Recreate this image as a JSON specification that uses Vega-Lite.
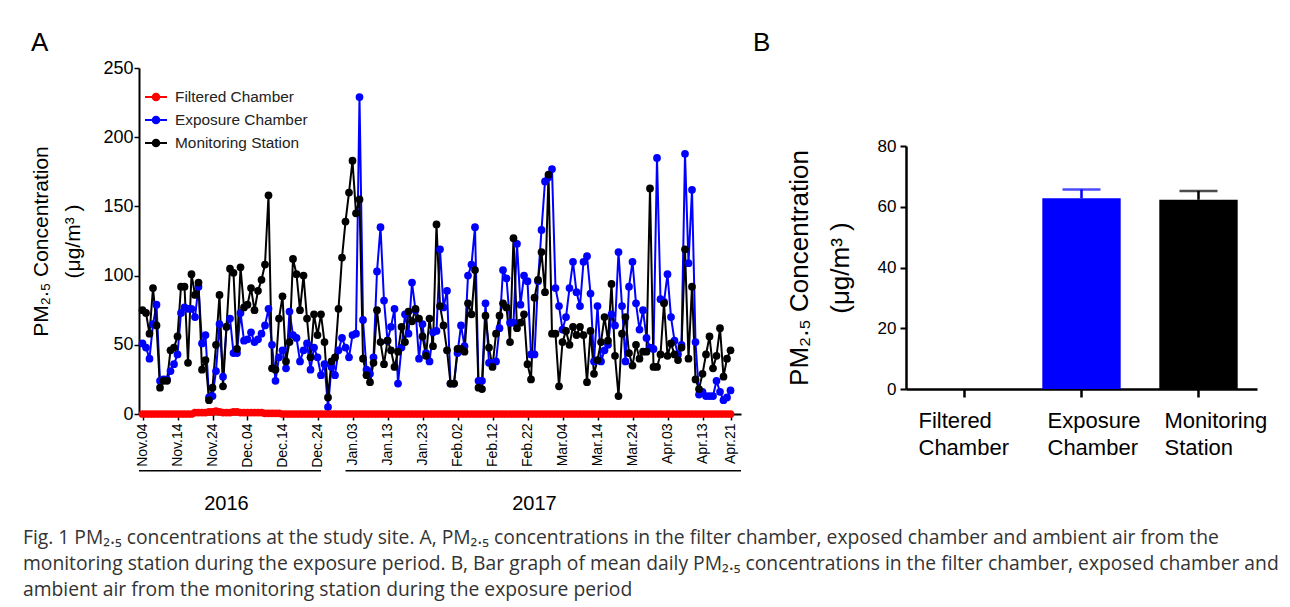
{
  "$schema": "https://vega.github.io/schema/vega-lite/v6.json",
  "background": "white",
  "padding": {"left": 22, "top": 30, "right": 5, "bottom": 2},
  "config": {
    "font": "Liberation Sans",
    "view": {"stroke": null},
    "axis": {"domainColor": "black", "tickColor": "black", "labelColor": "black", "titleColor": "black", "grid": false, "titleFontWeight": "normal", "labelFont": "Liberation Sans", "titleFont": "Liberation Sans"},
    "title": {"fontWeight": "normal", "color": "black"}
  },
  "title": {
    "text": [
      "Fig. 1 PM₂.₅ concentrations at the study site. A, PM₂.₅ concentrations in the filter chamber, exposed chamber and ambient air from the",
      "monitoring station during the exposure period. B, Bar graph of mean daily PM₂.₅ concentrations in the filter chamber, exposed chamber and",
      "ambient air from the monitoring station during the exposure period"
    ],
    "orient": "bottom", "anchor": "start", "frame": "bounds", "font": "Open Sans", "fontSize": 19.3, "fontWeight": "normal", "color": "#333333", "lineHeight": 26, "offset": 15, "dx": -8
  },
  "datasets": {
    "daily": [
      {"date":"2016-11-04","Filtered Chamber":0,"Exposure Chamber":51,"Monitoring Station":75},
      {"date":"2016-11-05","Filtered Chamber":0,"Exposure Chamber":48,"Monitoring Station":73},
      {"date":"2016-11-06","Filtered Chamber":0,"Exposure Chamber":40,"Monitoring Station":58},
      {"date":"2016-11-07","Filtered Chamber":0,"Exposure Chamber":65,"Monitoring Station":91},
      {"date":"2016-11-08","Filtered Chamber":0,"Exposure Chamber":79,"Monitoring Station":64},
      {"date":"2016-11-09","Filtered Chamber":0,"Exposure Chamber":24,"Monitoring Station":19},
      {"date":"2016-11-10","Filtered Chamber":0,"Exposure Chamber":25,"Monitoring Station":24},
      {"date":"2016-11-11","Filtered Chamber":0,"Exposure Chamber":25,"Monitoring Station":24},
      {"date":"2016-11-12","Filtered Chamber":0,"Exposure Chamber":31,"Monitoring Station":46},
      {"date":"2016-11-13","Filtered Chamber":0,"Exposure Chamber":36,"Monitoring Station":48},
      {"date":"2016-11-14","Filtered Chamber":0,"Exposure Chamber":43,"Monitoring Station":56},
      {"date":"2016-11-15","Filtered Chamber":0,"Exposure Chamber":73,"Monitoring Station":92},
      {"date":"2016-11-16","Filtered Chamber":0,"Exposure Chamber":77,"Monitoring Station":92},
      {"date":"2016-11-17","Filtered Chamber":0,"Exposure Chamber":76,"Monitoring Station":37},
      {"date":"2016-11-18","Filtered Chamber":0,"Exposure Chamber":76,"Monitoring Station":101},
      {"date":"2016-11-19","Filtered Chamber":1,"Exposure Chamber":70,"Monitoring Station":86},
      {"date":"2016-11-20","Filtered Chamber":1,"Exposure Chamber":92,"Monitoring Station":95},
      {"date":"2016-11-21","Filtered Chamber":1,"Exposure Chamber":51,"Monitoring Station":32},
      {"date":"2016-11-22","Filtered Chamber":1,"Exposure Chamber":57,"Monitoring Station":39},
      {"date":"2016-11-23","Filtered Chamber":1.5,"Exposure Chamber":12,"Monitoring Station":10},
      {"date":"2016-11-24","Filtered Chamber":1.5,"Exposure Chamber":13,"Monitoring Station":19},
      {"date":"2016-11-25","Filtered Chamber":2,"Exposure Chamber":31,"Monitoring Station":50},
      {"date":"2016-11-26","Filtered Chamber":1.5,"Exposure Chamber":65,"Monitoring Station":86},
      {"date":"2016-11-27","Filtered Chamber":1,"Exposure Chamber":27,"Monitoring Station":20},
      {"date":"2016-11-28","Filtered Chamber":1,"Exposure Chamber":63,"Monitoring Station":63},
      {"date":"2016-11-29","Filtered Chamber":1,"Exposure Chamber":69,"Monitoring Station":105},
      {"date":"2016-11-30","Filtered Chamber":1.5,"Exposure Chamber":44,"Monitoring Station":102},
      {"date":"2016-12-01","Filtered Chamber":1.5,"Exposure Chamber":44,"Monitoring Station":47},
      {"date":"2016-12-02","Filtered Chamber":1,"Exposure Chamber":73,"Monitoring Station":106},
      {"date":"2016-12-03","Filtered Chamber":1,"Exposure Chamber":53,"Monitoring Station":77},
      {"date":"2016-12-04","Filtered Chamber":1,"Exposure Chamber":54,"Monitoring Station":79},
      {"date":"2016-12-05","Filtered Chamber":1,"Exposure Chamber":59,"Monitoring Station":91},
      {"date":"2016-12-06","Filtered Chamber":1,"Exposure Chamber":52,"Monitoring Station":75},
      {"date":"2016-12-07","Filtered Chamber":1,"Exposure Chamber":54,"Monitoring Station":89},
      {"date":"2016-12-08","Filtered Chamber":1,"Exposure Chamber":58,"Monitoring Station":97},
      {"date":"2016-12-09","Filtered Chamber":0.5,"Exposure Chamber":64,"Monitoring Station":108},
      {"date":"2016-12-10","Filtered Chamber":0.5,"Exposure Chamber":76,"Monitoring Station":158},
      {"date":"2016-12-11","Filtered Chamber":0.5,"Exposure Chamber":50,"Monitoring Station":33},
      {"date":"2016-12-12","Filtered Chamber":0.5,"Exposure Chamber":24,"Monitoring Station":32},
      {"date":"2016-12-13","Filtered Chamber":0.5,"Exposure Chamber":41,"Monitoring Station":69},
      {"date":"2016-12-14","Filtered Chamber":0,"Exposure Chamber":46,"Monitoring Station":85},
      {"date":"2016-12-15","Filtered Chamber":0,"Exposure Chamber":33,"Monitoring Station":38},
      {"date":"2016-12-16","Filtered Chamber":0,"Exposure Chamber":74,"Monitoring Station":52},
      {"date":"2016-12-17","Filtered Chamber":0,"Exposure Chamber":57,"Monitoring Station":112},
      {"date":"2016-12-18","Filtered Chamber":0,"Exposure Chamber":55,"Monitoring Station":101},
      {"date":"2016-12-19","Filtered Chamber":0,"Exposure Chamber":38,"Monitoring Station":75},
      {"date":"2016-12-20","Filtered Chamber":0,"Exposure Chamber":46,"Monitoring Station":100},
      {"date":"2016-12-21","Filtered Chamber":0,"Exposure Chamber":51,"Monitoring Station":69},
      {"date":"2016-12-22","Filtered Chamber":0,"Exposure Chamber":32,"Monitoring Station":41},
      {"date":"2016-12-23","Filtered Chamber":0,"Exposure Chamber":48,"Monitoring Station":72},
      {"date":"2016-12-24","Filtered Chamber":0,"Exposure Chamber":41,"Monitoring Station":57},
      {"date":"2016-12-25","Filtered Chamber":0,"Exposure Chamber":28,"Monitoring Station":72},
      {"date":"2016-12-26","Filtered Chamber":0,"Exposure Chamber":36,"Monitoring Station":52},
      {"date":"2016-12-27","Filtered Chamber":0,"Exposure Chamber":5,"Monitoring Station":12},
      {"date":"2016-12-28","Filtered Chamber":0,"Exposure Chamber":34,"Monitoring Station":38},
      {"date":"2016-12-29","Filtered Chamber":0,"Exposure Chamber":28,"Monitoring Station":41},
      {"date":"2016-12-30","Filtered Chamber":0,"Exposure Chamber":46,"Monitoring Station":76},
      {"date":"2016-12-31","Filtered Chamber":0,"Exposure Chamber":55,"Monitoring Station":113},
      {"date":"2017-01-01","Filtered Chamber":0,"Exposure Chamber":48,"Monitoring Station":139},
      {"date":"2017-01-02","Filtered Chamber":0,"Exposure Chamber":41,"Monitoring Station":160},
      {"date":"2017-01-03","Filtered Chamber":0,"Exposure Chamber":57,"Monitoring Station":183},
      {"date":"2017-01-04","Filtered Chamber":0,"Exposure Chamber":58,"Monitoring Station":145},
      {"date":"2017-01-05","Filtered Chamber":0,"Exposure Chamber":229,"Monitoring Station":155},
      {"date":"2017-01-06","Filtered Chamber":0,"Exposure Chamber":68,"Monitoring Station":40},
      {"date":"2017-01-07","Filtered Chamber":0,"Exposure Chamber":32,"Monitoring Station":28},
      {"date":"2017-01-08","Filtered Chamber":0,"Exposure Chamber":29,"Monitoring Station":23},
      {"date":"2017-01-09","Filtered Chamber":0,"Exposure Chamber":41,"Monitoring Station":37},
      {"date":"2017-01-10","Filtered Chamber":0,"Exposure Chamber":103,"Monitoring Station":75},
      {"date":"2017-01-11","Filtered Chamber":0,"Exposure Chamber":135,"Monitoring Station":52},
      {"date":"2017-01-12","Filtered Chamber":0,"Exposure Chamber":82,"Monitoring Station":36},
      {"date":"2017-01-13","Filtered Chamber":0,"Exposure Chamber":53,"Monitoring Station":53},
      {"date":"2017-01-14","Filtered Chamber":0,"Exposure Chamber":63,"Monitoring Station":46},
      {"date":"2017-01-15","Filtered Chamber":0,"Exposure Chamber":76,"Monitoring Station":34},
      {"date":"2017-01-16","Filtered Chamber":0,"Exposure Chamber":22,"Monitoring Station":45},
      {"date":"2017-01-17","Filtered Chamber":0,"Exposure Chamber":48,"Monitoring Station":63},
      {"date":"2017-01-18","Filtered Chamber":0,"Exposure Chamber":72,"Monitoring Station":52},
      {"date":"2017-01-19","Filtered Chamber":0,"Exposure Chamber":58,"Monitoring Station":74},
      {"date":"2017-01-20","Filtered Chamber":0,"Exposure Chamber":95,"Monitoring Station":67},
      {"date":"2017-01-21","Filtered Chamber":0,"Exposure Chamber":75,"Monitoring Station":76},
      {"date":"2017-01-22","Filtered Chamber":0,"Exposure Chamber":40,"Monitoring Station":69},
      {"date":"2017-01-23","Filtered Chamber":0,"Exposure Chamber":65,"Monitoring Station":56},
      {"date":"2017-01-24","Filtered Chamber":0,"Exposure Chamber":44,"Monitoring Station":42},
      {"date":"2017-01-25","Filtered Chamber":0,"Exposure Chamber":38,"Monitoring Station":69},
      {"date":"2017-01-26","Filtered Chamber":0,"Exposure Chamber":59,"Monitoring Station":49},
      {"date":"2017-01-27","Filtered Chamber":0,"Exposure Chamber":60,"Monitoring Station":137},
      {"date":"2017-01-28","Filtered Chamber":0,"Exposure Chamber":119,"Monitoring Station":78},
      {"date":"2017-01-29","Filtered Chamber":0,"Exposure Chamber":77,"Monitoring Station":64},
      {"date":"2017-01-30","Filtered Chamber":0,"Exposure Chamber":89,"Monitoring Station":46},
      {"date":"2017-01-31","Filtered Chamber":0,"Exposure Chamber":22,"Monitoring Station":22},
      {"date":"2017-02-01","Filtered Chamber":0,"Exposure Chamber":22,"Monitoring Station":22},
      {"date":"2017-02-02","Filtered Chamber":0,"Exposure Chamber":44,"Monitoring Station":47},
      {"date":"2017-02-03","Filtered Chamber":0,"Exposure Chamber":64,"Monitoring Station":47},
      {"date":"2017-02-04","Filtered Chamber":0,"Exposure Chamber":49,"Monitoring Station":45},
      {"date":"2017-02-05","Filtered Chamber":0,"Exposure Chamber":100,"Monitoring Station":80},
      {"date":"2017-02-06","Filtered Chamber":0,"Exposure Chamber":108,"Monitoring Station":72},
      {"date":"2017-02-07","Filtered Chamber":0,"Exposure Chamber":135,"Monitoring Station":104},
      {"date":"2017-02-08","Filtered Chamber":0,"Exposure Chamber":24,"Monitoring Station":19},
      {"date":"2017-02-09","Filtered Chamber":0,"Exposure Chamber":24,"Monitoring Station":18},
      {"date":"2017-02-10","Filtered Chamber":0,"Exposure Chamber":80,"Monitoring Station":71},
      {"date":"2017-02-11","Filtered Chamber":0,"Exposure Chamber":37,"Monitoring Station":48},
      {"date":"2017-02-12","Filtered Chamber":0,"Exposure Chamber":37,"Monitoring Station":34},
      {"date":"2017-02-13","Filtered Chamber":0,"Exposure Chamber":38,"Monitoring Station":58},
      {"date":"2017-02-14","Filtered Chamber":0,"Exposure Chamber":62,"Monitoring Station":71},
      {"date":"2017-02-15","Filtered Chamber":0,"Exposure Chamber":104,"Monitoring Station":80},
      {"date":"2017-02-16","Filtered Chamber":0,"Exposure Chamber":98,"Monitoring Station":77},
      {"date":"2017-02-17","Filtered Chamber":0,"Exposure Chamber":66,"Monitoring Station":52},
      {"date":"2017-02-18","Filtered Chamber":0,"Exposure Chamber":66,"Monitoring Station":127},
      {"date":"2017-02-19","Filtered Chamber":0,"Exposure Chamber":123,"Monitoring Station":62},
      {"date":"2017-02-20","Filtered Chamber":0,"Exposure Chamber":79,"Monitoring Station":66},
      {"date":"2017-02-21","Filtered Chamber":0,"Exposure Chamber":100,"Monitoring Station":72},
      {"date":"2017-02-22","Filtered Chamber":0,"Exposure Chamber":96,"Monitoring Station":36},
      {"date":"2017-02-23","Filtered Chamber":0,"Exposure Chamber":43,"Monitoring Station":25},
      {"date":"2017-02-24","Filtered Chamber":0,"Exposure Chamber":43,"Monitoring Station":84},
      {"date":"2017-02-25","Filtered Chamber":0,"Exposure Chamber":96,"Monitoring Station":97},
      {"date":"2017-02-26","Filtered Chamber":0,"Exposure Chamber":133,"Monitoring Station":117},
      {"date":"2017-02-27","Filtered Chamber":0,"Exposure Chamber":168,"Monitoring Station":88},
      {"date":"2017-02-28","Filtered Chamber":0,"Exposure Chamber":171,"Monitoring Station":173},
      {"date":"2017-03-01","Filtered Chamber":0,"Exposure Chamber":177,"Monitoring Station":58},
      {"date":"2017-03-02","Filtered Chamber":0,"Exposure Chamber":91,"Monitoring Station":58},
      {"date":"2017-03-03","Filtered Chamber":0,"Exposure Chamber":78,"Monitoring Station":20},
      {"date":"2017-03-04","Filtered Chamber":0,"Exposure Chamber":61,"Monitoring Station":52},
      {"date":"2017-03-05","Filtered Chamber":0,"Exposure Chamber":70,"Monitoring Station":60},
      {"date":"2017-03-06","Filtered Chamber":0,"Exposure Chamber":91,"Monitoring Station":50},
      {"date":"2017-03-07","Filtered Chamber":0,"Exposure Chamber":110,"Monitoring Station":63},
      {"date":"2017-03-08","Filtered Chamber":0,"Exposure Chamber":88,"Monitoring Station":57},
      {"date":"2017-03-09","Filtered Chamber":0,"Exposure Chamber":78,"Monitoring Station":63},
      {"date":"2017-03-10","Filtered Chamber":0,"Exposure Chamber":110,"Monitoring Station":57},
      {"date":"2017-03-11","Filtered Chamber":0,"Exposure Chamber":114,"Monitoring Station":23},
      {"date":"2017-03-12","Filtered Chamber":0,"Exposure Chamber":87,"Monitoring Station":60},
      {"date":"2017-03-13","Filtered Chamber":0,"Exposure Chamber":38,"Monitoring Station":29},
      {"date":"2017-03-14","Filtered Chamber":0,"Exposure Chamber":78,"Monitoring Station":39},
      {"date":"2017-03-15","Filtered Chamber":0,"Exposure Chamber":38,"Monitoring Station":52},
      {"date":"2017-03-16","Filtered Chamber":0,"Exposure Chamber":46,"Monitoring Station":70},
      {"date":"2017-03-17","Filtered Chamber":0,"Exposure Chamber":50,"Monitoring Station":53},
      {"date":"2017-03-18","Filtered Chamber":0,"Exposure Chamber":72,"Monitoring Station":94},
      {"date":"2017-03-19","Filtered Chamber":0,"Exposure Chamber":64,"Monitoring Station":42},
      {"date":"2017-03-20","Filtered Chamber":0,"Exposure Chamber":117,"Monitoring Station":13},
      {"date":"2017-03-21","Filtered Chamber":0,"Exposure Chamber":78,"Monitoring Station":58},
      {"date":"2017-03-22","Filtered Chamber":0,"Exposure Chamber":38,"Monitoring Station":70},
      {"date":"2017-03-23","Filtered Chamber":0,"Exposure Chamber":92,"Monitoring Station":44},
      {"date":"2017-03-24","Filtered Chamber":0,"Exposure Chamber":110,"Monitoring Station":35},
      {"date":"2017-03-25","Filtered Chamber":0,"Exposure Chamber":80,"Monitoring Station":50},
      {"date":"2017-03-26","Filtered Chamber":0,"Exposure Chamber":61,"Monitoring Station":40},
      {"date":"2017-03-27","Filtered Chamber":0,"Exposure Chamber":75,"Monitoring Station":45},
      {"date":"2017-03-28","Filtered Chamber":0,"Exposure Chamber":55,"Monitoring Station":45},
      {"date":"2017-03-29","Filtered Chamber":0,"Exposure Chamber":48,"Monitoring Station":163},
      {"date":"2017-03-30","Filtered Chamber":0,"Exposure Chamber":47,"Monitoring Station":34},
      {"date":"2017-03-31","Filtered Chamber":0,"Exposure Chamber":185,"Monitoring Station":34},
      {"date":"2017-04-01","Filtered Chamber":0,"Exposure Chamber":83,"Monitoring Station":43},
      {"date":"2017-04-02","Filtered Chamber":0,"Exposure Chamber":81,"Monitoring Station":80},
      {"date":"2017-04-03","Filtered Chamber":0,"Exposure Chamber":101,"Monitoring Station":42},
      {"date":"2017-04-04","Filtered Chamber":0,"Exposure Chamber":70,"Monitoring Station":51},
      {"date":"2017-04-05","Filtered Chamber":0,"Exposure Chamber":53,"Monitoring Station":43},
      {"date":"2017-04-06","Filtered Chamber":0,"Exposure Chamber":43,"Monitoring Station":39},
      {"date":"2017-04-07","Filtered Chamber":0,"Exposure Chamber":50,"Monitoring Station":48},
      {"date":"2017-04-08","Filtered Chamber":0,"Exposure Chamber":188,"Monitoring Station":119},
      {"date":"2017-04-09","Filtered Chamber":0,"Exposure Chamber":109,"Monitoring Station":40},
      {"date":"2017-04-10","Filtered Chamber":0,"Exposure Chamber":162,"Monitoring Station":92},
      {"date":"2017-04-11","Filtered Chamber":0,"Exposure Chamber":52,"Monitoring Station":25},
      {"date":"2017-04-12","Filtered Chamber":0,"Exposure Chamber":14,"Monitoring Station":18},
      {"date":"2017-04-13","Filtered Chamber":0,"Exposure Chamber":16,"Monitoring Station":29},
      {"date":"2017-04-14","Filtered Chamber":0,"Exposure Chamber":13,"Monitoring Station":43},
      {"date":"2017-04-15","Filtered Chamber":0,"Exposure Chamber":13,"Monitoring Station":56},
      {"date":"2017-04-16","Filtered Chamber":0,"Exposure Chamber":13,"Monitoring Station":33},
      {"date":"2017-04-17","Filtered Chamber":0,"Exposure Chamber":24,"Monitoring Station":42},
      {"date":"2017-04-18","Filtered Chamber":0,"Exposure Chamber":16,"Monitoring Station":62},
      {"date":"2017-04-19","Filtered Chamber":0,"Exposure Chamber":10,"Monitoring Station":27},
      {"date":"2017-04-20","Filtered Chamber":0,"Exposure Chamber":12,"Monitoring Station":40},
      {"date":"2017-04-21","Filtered Chamber":0,"Exposure Chamber":17,"Monitoring Station":46}
    ],
    "years": [
      {"label": "2016", "start": "2016-11-03", "end": "2016-12-25", "mid": "2016-11-28"},
      {"label": "2017", "start": "2017-01-01", "end": "2017-04-24", "mid": "2017-02-24"}
    ],
    "means": [
      {"group": "Filtered Chamber", "mean": 0, "upper": null},
      {"group": "Exposure Chamber", "mean": 62.8, "upper": 65.7},
      {"group": "Monitoring Station", "mean": 62.3, "upper": 65.2}
    ]
  },
  "hconcat": [
    {
      "width": 602,
      "height": 346,
      "title": {"text": "A", "anchor": "start", "frame": "bounds", "fontSize": 26, "offset": 3},
      "layer": [
        {
          "data": {"name": "daily"},
          "transform": [{"fold": ["Exposure Chamber", "Monitoring Station", "Filtered Chamber"], "as": ["series", "pm"]}],
          "encoding": {
            "x": {
              "field": "date", "type": "temporal",
              "scale": {"type": "utc", "nice": false, "domain": [{"year": 2016, "month": 11, "date": 3, "utc": true}, {"year": 2017, "month": 4, "date": 24, "utc": true}]},
              "axis": {
                "title": null,
                "values": [
                  {"year": 2016, "month": 11, "date": 4, "utc": true},
                  {"year": 2016, "month": 11, "date": 14, "utc": true},
                  {"year": 2016, "month": 11, "date": 24, "utc": true},
                  {"year": 2016, "month": 12, "date": 4, "utc": true},
                  {"year": 2016, "month": 12, "date": 14, "utc": true},
                  {"year": 2016, "month": 12, "date": 24, "utc": true},
                  {"year": 2017, "month": 1, "date": 3, "utc": true},
                  {"year": 2017, "month": 1, "date": 13, "utc": true},
                  {"year": 2017, "month": 1, "date": 23, "utc": true},
                  {"year": 2017, "month": 2, "date": 2, "utc": true},
                  {"year": 2017, "month": 2, "date": 12, "utc": true},
                  {"year": 2017, "month": 2, "date": 22, "utc": true},
                  {"year": 2017, "month": 3, "date": 4, "utc": true},
                  {"year": 2017, "month": 3, "date": 14, "utc": true},
                  {"year": 2017, "month": 3, "date": 24, "utc": true},
                  {"year": 2017, "month": 4, "date": 3, "utc": true},
                  {"year": 2017, "month": 4, "date": 13, "utc": true},
                  {"year": 2017, "month": 4, "date": 21, "utc": true}
                ],
                "tickCount": 30,
                "format": "%b.%d",
                "labelAngle": -90,
                "labelFontSize": 14,
                "labelPadding": 3,
                "labelFlush": false,
                "labelOverlap": false,
                "labelBound": false,
                "tickSize": 6,
                "tickWidth": 1.5,
                "domainWidth": 2
              }
            },
            "y": {
              "field": "pm", "type": "quantitative",
              "scale": {"domain": [0, 250], "nice": false, "zero": false},
              "axis": {
                "values": [0, 50, 100, 150, 200, 250],
                "title": ["PM₂.₅ Concentration", "(μg/m³ )"],
                "titleFontSize": 21,
                "titleLineHeight": 32,
                "titlePadding": 19,
                "labelFontSize": 18,
                "labelPadding": 1,
                "tickSize": 5,
                "tickWidth": 1.5,
                "domainWidth": 2
              }
            },
            "color": {
              "field": "series", "type": "nominal",
              "scale": {"domain": ["Filtered Chamber", "Exposure Chamber", "Monitoring Station"], "range": ["#ff0000", "#0000ff", "#000000"]},
              "legend": {
                "title": null,
                "orient": "none",
                "legendX": 5,
                "legendY": 17,
                "padding": 0,
                "symbolType": "M-1,0L1,0M-0.3,0A0.3,0.3 0 1,0 0.3,0A0.3,0.3 0 1,0 -0.3,0M-0.12,0A0.12,0.12 0 1,0 0.12,0A0.12,0.12 0 1,0 -0.12,0",
                "symbolSize": 484,
                "symbolStrokeWidth": 2,
                "labelFontSize": 15.4,
                "labelFont": "Liberation Sans",
                "labelColor": "#222222",
                "labelOffset": 7,
                "rowPadding": 2
              }
            }
          },
          "layer": [
            {"mark": {"type": "line", "strokeWidth": 2}},
            {
              "mark": {"type": "point", "filled": true, "size": 60, "opacity": 1},
              "encoding": {"order": {"field": "series", "type": "ordinal"}}
            }
          ]
        },
        {
          "data": {"name": "years"},
          "mark": {"type": "rule", "strokeWidth": 1.5, "color": "black"},
          "encoding": {
            "x": {"field": "start", "type": "temporal"},
            "x2": {"field": "end"},
            "y": {"datum": -41, "scale": {"domain": [0, 250], "nice": false, "zero": false}}
          }
        },
        {
          "data": {"name": "years"},
          "mark": {"type": "text", "fontSize": 20, "color": "black", "baseline": "middle"},
          "encoding": {
            "x": {"field": "mid", "type": "temporal"},
            "y": {"datum": -65},
            "text": {"field": "label"}
          }
        }
      ]
    },
    {
      "width": 351,
      "height": 321,
      "title": {"text": "B", "anchor": "start", "frame": "bounds", "fontSize": 26, "offset": 12, "dx": -33},
      "data": {"name": "means"},
      "encoding": {
        "x": {
          "field": "group", "type": "nominal", "sort": null,
          "scale": {"paddingInner": 0.33, "paddingOuter": 0.165},
          "axis": {
            "title": null,
            "labelAngle": 0,
            "labelFontSize": 22,
            "labelPadding": 13,
            "labelExpr": "split(datum.label, ' ')",
            "labelLineHeight": 27,
            "labelBaseline": "top",
            "labelAlign": "left",
            "labelOffset": {"condition": {"test": "datum.value === 'Filtered Chamber'", "value": -46}, "value": -34},
            "tickSize": 8,
            "tickWidth": 2.5,
            "domainWidth": 2.5
          }
        }
      },
      "layer": [
        {
          "mark": {"type": "bar"},
          "encoding": {
            "y": {
              "field": "mean", "type": "quantitative",
              "scale": {"domain": [0, 80], "nice": false, "range": [321, 78]},
              "axis": {
                "values": [0, 20, 40, 60, 80],
                "title": ["PM₂.₅ Concentration", "(μg/m³ )"],
                "titleFontSize": 26,
                "titleLineHeight": 41,
                "titlePadding": 24,
                "labelFontSize": 17,
                "labelPadding": 4,
                "tickSize": 6,
                "tickWidth": 2,
                "domainWidth": 2.5
              }
            },
            "color": {
              "field": "group", "type": "nominal",
              "scale": {"domain": ["Filtered Chamber", "Exposure Chamber", "Monitoring Station"], "range": ["#ff0000", "#0000ff", "#000000"]},
              "legend": null
            }
          }
        },
        {
          "transform": [{"filter": "isValid(datum.upper)"}],
          "mark": {"type": "rule", "strokeWidth": 2.5},
          "encoding": {
            "y": {"field": "mean", "type": "quantitative"},
            "y2": {"field": "upper"},
            "color": {"field": "group", "type": "nominal", "legend": null}
          }
        },
        {
          "transform": [{"filter": "isValid(datum.upper)"}],
          "mark": {"type": "tick", "thickness": 2.5, "size": 38},
          "encoding": {
            "y": {"field": "upper", "type": "quantitative"},
            "color": {"field": "group", "type": "nominal", "legend": null}
          }
        }
      ]
    }
  ],
  "spacing": 11
}
